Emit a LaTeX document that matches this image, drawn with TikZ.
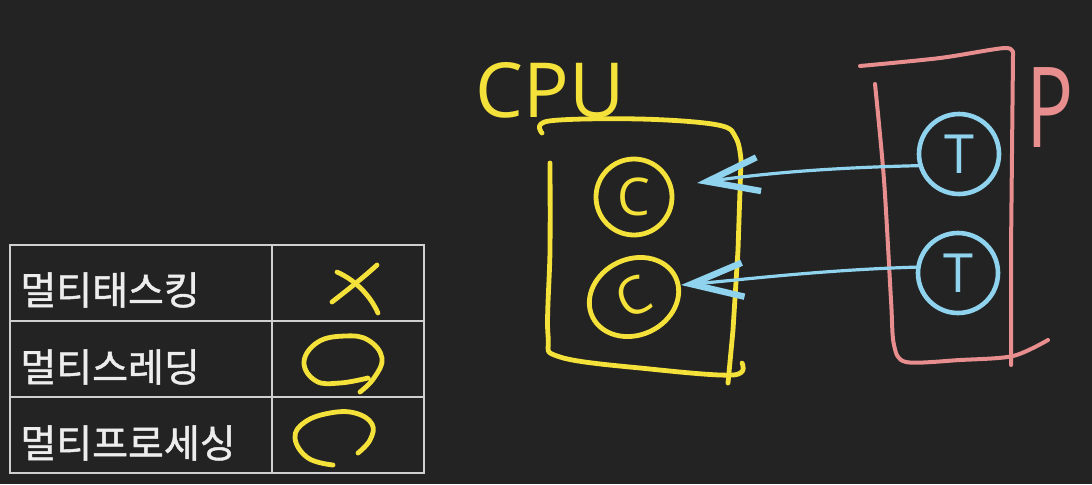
\documentclass[tikz,border=0pt]{standalone}
\usepackage{fontspec}
\setmainfont{Open Sans}
\newfontfamily\kr{Noto Sans CJK KR}[FakeBold=1.2]
\usetikzlibrary{arrows.meta,shapes.geometric}
\definecolor{bg}{HTML}{232323}
\definecolor{ylw}{HTML}{F4E13A}
\definecolor{sky}{HTML}{8FD3EF}
\definecolor{pnk}{HTML}{E88E8E}
\definecolor{chalk}{HTML}{EDEDED}
\tikzset{
  ystroke/.style={draw=ylw, line width=2.4pt, line cap=round, line join=round},
  pstroke/.style={draw=pnk, line width=2pt, line cap=round, line join=round},
  tbl/.style={draw=chalk!85!bg, line width=1pt},
  rowtext/.style={anchor=west, text=chalk, inner sep=0pt, font=\kr\fontsize{19.5}{19.5}\selectfont},
  ccirc/.style={circle, ystroke, inner sep=0pt, minimum size=38pt, text=ylw, font=\fontsize{26}{26}\selectfont},
  tcirc/.style={circle, draw=sky, line width=2.3pt, inner sep=0pt, minimum size=40pt, text=sky, font=\fontsize{27}{27}\selectfont},
  tarrow/.style={draw=sky, line width=1.6pt, line cap=round, -{Straight Barb[length=26pt, width=17pt, line width=3.2pt]}},
}
\begin{document}
\begin{tikzpicture}[x=0.5pt, y=-0.5pt]
\fill[bg] (0,0) rectangle (1092,484);
\useasboundingbox (0,0) rectangle (1092,484);

% table
\draw[tbl] (10,245) rectangle (424,473);
\draw[tbl] (272,245) -- (272,473);
\draw[tbl] (10,321) -- (424,321);
\draw[tbl] (10,397) -- (424,397);
\node[rowtext] (r1) at (20,290) {멀티태스킹};
\node[rowtext] (r2) at (20,367) {멀티스레딩};
\node[rowtext] (r3) at (20,443) {멀티프로세싱};
% marks
\draw[ystroke] (332,302) .. controls (350,288) and (365,276) .. (377,265);
\draw[ystroke] (337,272) .. controls (355,280) and (370,295) .. (378,313);
\draw[ystroke] plot[smooth, tension=0.7] coordinates {(360,392) (374,378) (382,358) (368,340) (345,336) (318,342) (304,362) (316,381) (340,383) (368,378)};
\draw[ystroke] plot[smooth, tension=0.7] coordinates {(358,453) (370,440) (372,424) (355,413) (330,413) (305,422) (295,438) (308,458) (333,465)};

% CPU label and box
\node[text=ylw, font=\fontsize{38}{38}\selectfont, inner sep=0pt] (cpu) at (550,90) {CPU};
\draw[ystroke] plot[smooth, tension=0.6] coordinates {(542,133) (549,121) (640,119) (718,125) (736,138) (741,160)} -- (738,250) -- (733,330) -- (728,383);
\draw[ystroke] plot[smooth, tension=0.6] coordinates {(550,163) (550,250) (548,335) (560,357) (650,369) (733,375) (742,363)};

\node[ccirc] (c1) at (634,197) {C};
\node[ellipse, ystroke, inner sep=0pt, minimum width=46pt, minimum height=38pt, rotate=25, text=ylw, font=\fontsize{26}{26}\selectfont] (c2) at (634,297) {C};

% process box
\node[text=pnk, font=\fontsize{56}{56}\selectfont, inner sep=0pt] (plabel) at (1050,108) {\scalebox{0.7}[1]{P}};
\draw[pstroke] plot[smooth, tension=0.5] coordinates {(860,66) (940,58) (1005,48) (1013,55)} -- (1011,250) -- (1011,365);
\draw[pstroke] plot[smooth, tension=0.5] coordinates {(875,84) (884,180) (891,300) (894,345) (906,362) (960,360) (1013,356) (1048,340)};

\node[tcirc] (t1) at (959,154) {T};
\node[tcirc] (t2) at (958,273) {T};

\coordinate (a1) at (697,183);
\coordinate (a2) at (681,285);
\draw[tarrow] (t1.196) .. controls (820,168) and (760,174) .. (a1);
\draw[tarrow] (t2.172) .. controls (820,270) and (740,280) .. (a2);
\end{tikzpicture}
\end{document}
